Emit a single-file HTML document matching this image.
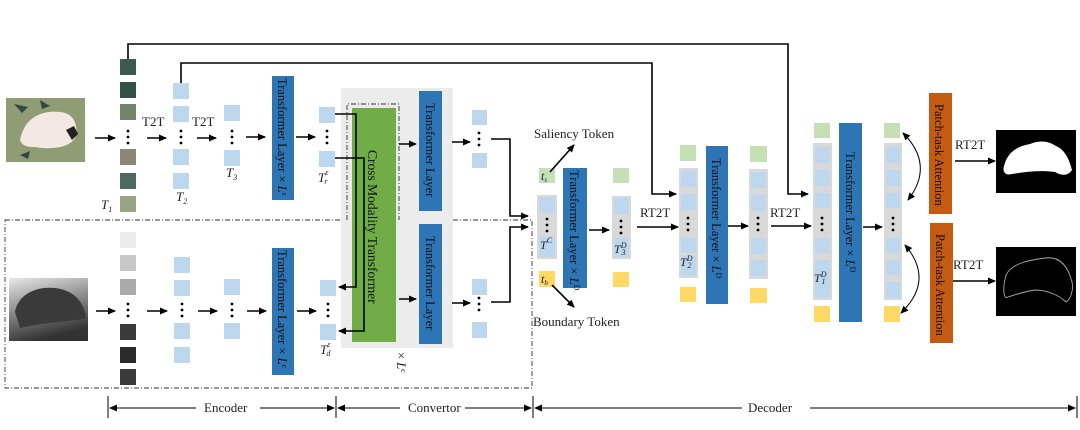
<!DOCTYPE html>
<html><head><meta charset="utf-8"><style>
html,body{margin:0;padding:0;background:#fff;}
svg{display:block;font-family:"Liberation Serif",serif;}
</style></head><body>
<svg width="1080" height="430" viewBox="0 0 1080 430" xmlns="http://www.w3.org/2000/svg">
<defs>
<marker id="a" markerWidth="8" markerHeight="8" refX="7" refY="4" orient="auto-start-reverse" markerUnits="userSpaceOnUse"><path d="M0,0.5 L8,4 L0,7.5 Z" fill="#000"/></marker>
<linearGradient id="dg" x1="0" y1="0" x2="0.3" y2="1"><stop offset="0" stop-color="#e8e8e8"/><stop offset="1" stop-color="#333"/></linearGradient>
</defs>
<g fill="none" stroke="#000" stroke-width="1.6">
<path d="M128,59 V44 H788 V194 H808" marker-end="url(#a)"/>
<path d="M181,83 V63 H652 V194 H676" marker-end="url(#a)"/>
</g>
<g fill="none" stroke="#333" stroke-width="0.9" stroke-dasharray="5,2,1,2">
<path d="M5,220 H347 V104 H399 V220 H532 V388 H5 Z"/>
</g>
<rect x="6" y="98" width="79" height="64" fill="#8f9c74"/>
<path d="M20,140 C25,115 45,110 60,112 C72,113 78,122 76,135 C73,148 50,150 35,147 C28,147 22,146 20,140Z" fill="#f3e9e2"/>
<path d="M66,130 l8,-4 l4,8 l-6,6z" fill="#222"/>
<path d="M14,104 l14,3 l-6,6z M40,100 l10,6 l-8,3z M20,155 l10,-4 l-2,8z" fill="#2f4a44"/>
<rect x="9" y="278" width="79" height="63" fill="url(#dg)"/>
<path d="M15,312 C18,295 35,286 55,288 C72,290 84,300 86,318 C70,322 45,322 20,328 Z" fill="#3a3a3a"/>
<g>
<rect x="120" y="59" width="16" height="16" fill="#3d5a50"/>
<rect x="120" y="82" width="16" height="16" fill="#34504a"/>
<rect x="120" y="104" width="16" height="16" fill="#6f8469"/>
<rect x="120" y="149" width="16" height="16" fill="#8a8777"/>
<rect x="120" y="173" width="16" height="16" fill="#4d6a60"/>
<rect x="120" y="196" width="16" height="16" fill="#98a67f"/>
<rect x="120" y="232" width="16" height="16" fill="#ececec"/>
<rect x="120" y="255" width="16" height="16" fill="#c8c8c8"/>
<rect x="120" y="279" width="16" height="16" fill="#aaaaaa"/>
<rect x="120" y="324" width="16" height="16" fill="#3a3a3a"/>
<rect x="120" y="347" width="16" height="16" fill="#2a2a2a"/>
<rect x="120" y="369" width="16" height="16" fill="#3a3a3a"/>
</g>
<g fill="#bdd7ee">
<rect x="173" y="83" width="16" height="16"/><rect x="173" y="106" width="16" height="16"/>
<rect x="173" y="149" width="16" height="16"/><rect x="173" y="173" width="16" height="16"/>
<rect x="224" y="105" width="16" height="16"/><rect x="224" y="150" width="16" height="16"/>
<rect x="319" y="107" width="16" height="16"/><rect x="319" y="151" width="16" height="16"/>
<rect x="174" y="257" width="16" height="16"/><rect x="174" y="280" width="16" height="16"/>
<rect x="174" y="323" width="16" height="16"/><rect x="174" y="347" width="16" height="16"/>
<rect x="224" y="279" width="16" height="16"/><rect x="224" y="323" width="16" height="16"/>
<rect x="320" y="280" width="16" height="16"/><rect x="320" y="324" width="16" height="16"/>
<rect x="472" y="110" width="15" height="15"/><rect x="472" y="153" width="15" height="15"/>
<rect x="472" y="279" width="15" height="16"/><rect x="472" y="322" width="15" height="16"/>
</g>
<g fill="#000">
<circle cx="128" cy="131" r="1.4"/><circle cx="128" cy="137" r="1.4"/><circle cx="128" cy="143" r="1.4"/>
<circle cx="181" cy="131" r="1.4"/><circle cx="181" cy="137" r="1.4"/><circle cx="181" cy="143" r="1.4"/>
<circle cx="232" cy="131" r="1.4"/><circle cx="232" cy="137" r="1.4"/><circle cx="232" cy="143" r="1.4"/>
<circle cx="327" cy="131" r="1.4"/><circle cx="327" cy="137" r="1.4"/><circle cx="327" cy="143" r="1.4"/>
<circle cx="128" cy="304" r="1.4"/><circle cx="128" cy="310" r="1.4"/><circle cx="128" cy="316" r="1.4"/>
<circle cx="182" cy="304" r="1.4"/><circle cx="182" cy="310" r="1.4"/><circle cx="182" cy="316" r="1.4"/>
<circle cx="232" cy="304" r="1.4"/><circle cx="232" cy="310" r="1.4"/><circle cx="232" cy="316" r="1.4"/>
<circle cx="328" cy="304" r="1.4"/><circle cx="328" cy="310" r="1.4"/><circle cx="328" cy="316" r="1.4"/>
<circle cx="479" cy="133" r="1.4"/><circle cx="479" cy="139" r="1.4"/><circle cx="479" cy="145" r="1.4"/>
<circle cx="479" cy="298" r="1.4"/><circle cx="479" cy="304" r="1.4"/><circle cx="479" cy="310" r="1.4"/>
</g>
<rect x="341" y="88" width="112" height="260" fill="#ececec"/>
<path d="M347,220 V104 H399 V220" fill="none" stroke="#333" stroke-width="0.9" stroke-dasharray="5,2,1,2"/>
<rect x="352" y="108" width="44" height="234" fill="#70ad47"/>
<g fill="#2e75b6">
<rect x="272" y="76" width="22" height="124"/>
<rect x="272" y="248" width="22" height="127"/>
<rect x="419" y="91" width="23" height="120"/>
<rect x="419" y="224" width="23" height="120"/>
<rect x="563" y="168" width="24" height="120"/>
<rect x="706" y="146" width="22" height="158"/>
<rect x="839" y="123" width="23" height="199"/>
</g>
<g fill="none" stroke="#000" stroke-width="1.6" marker-end="url(#a)">
<path d="M95,138 H115"/><path d="M147,138 H166"/><path d="M197,138 H216"/><path d="M246,137 H265"/><path d="M296,137 H315"/>
<path d="M96,311 H115"/><path d="M147,311 H167"/><path d="M198,311 H217"/><path d="M247,311 H266"/><path d="M297,311 H316"/>
<path d="M335,114 H356 V287 H339"/><path d="M335,158 H364 V331 H339"/>
<path d="M399,144 H416"/><path d="M399,299 H416"/>
<path d="M452,142 H470"/><path d="M452,303 H470"/>
<path d="M491,139 H510 V216 H528"/><path d="M491,302 H510 V227 H528"/>
</g>
<g>
<rect x="537" y="195" width="20" height="64" fill="#d9d9d9"/>
<rect x="539" y="197" width="16" height="16" fill="#bdd7ee"/><rect x="539" y="237" width="16" height="20" fill="#bdd7ee"/>
<rect x="539" y="168" width="16" height="15" fill="#c5e0b4"/><rect x="539" y="271" width="16" height="16" fill="#ffd966"/>
<rect x="613" y="168" width="16" height="15" fill="#c5e0b4"/>
<rect x="612" y="196" width="19" height="63" fill="#d9d9d9"/>
<rect x="614" y="198" width="15" height="16" fill="#bdd7ee"/><rect x="614" y="238" width="15" height="19" fill="#bdd7ee"/>
<rect x="613" y="272" width="16" height="15" fill="#ffd966"/>
<rect x="680" y="145" width="16" height="16" fill="#c5e0b4"/>
<rect x="679" y="168" width="19" height="110" fill="#d9d9d9"/>
<rect x="681" y="171" width="15" height="16" fill="#bdd7ee"/><rect x="681" y="194" width="15" height="16" fill="#bdd7ee"/>
<rect x="681" y="238" width="15" height="15" fill="#bdd7ee"/><rect x="681" y="256" width="15" height="20" fill="#bdd7ee"/>
<rect x="680" y="287" width="16" height="15" fill="#ffd966"/>
<rect x="750" y="146" width="17" height="16" fill="#c5e0b4"/>
<rect x="749" y="169" width="19" height="110" fill="#d9d9d9"/>
<rect x="751" y="172" width="15" height="16" fill="#bdd7ee"/><rect x="751" y="195" width="15" height="16" fill="#bdd7ee"/>
<rect x="751" y="238" width="15" height="16" fill="#bdd7ee"/><rect x="751" y="260" width="15" height="16" fill="#bdd7ee"/>
<rect x="750" y="288" width="17" height="15" fill="#ffd966"/>
<rect x="814" y="123" width="16" height="15" fill="#c5e0b4"/>
<rect x="813" y="143" width="19" height="157" fill="#d9d9d9"/>
<rect x="815" y="147" width="15" height="16" fill="#bdd7ee"/><rect x="815" y="170" width="15" height="16" fill="#bdd7ee"/><rect x="815" y="193" width="15" height="15" fill="#bdd7ee"/>
<rect x="815" y="238" width="15" height="15" fill="#bdd7ee"/><rect x="815" y="260" width="15" height="38" fill="#bdd7ee"/>
<rect x="814" y="306" width="16" height="16" fill="#ffd966"/>
<rect x="884" y="123" width="16" height="15" fill="#c5e0b4"/>
<rect x="884" y="143" width="18" height="157" fill="#d9d9d9"/>
<rect x="886" y="147" width="14" height="16" fill="#bdd7ee"/><rect x="886" y="170" width="14" height="16" fill="#bdd7ee"/><rect x="886" y="193" width="14" height="15" fill="#bdd7ee"/>
<rect x="886" y="238" width="14" height="15" fill="#bdd7ee"/><rect x="886" y="260" width="14" height="15" fill="#bdd7ee"/><rect x="886" y="282" width="14" height="16" fill="#bdd7ee"/>
<rect x="884" y="306" width="16" height="16" fill="#ffd966"/>
</g>
<g fill="#000">
<circle cx="547" cy="219" r="1.4"/><circle cx="547" cy="225" r="1.4"/><circle cx="547" cy="231" r="1.4"/>
<circle cx="621" cy="221" r="1.4"/><circle cx="621" cy="227" r="1.4"/><circle cx="621" cy="233" r="1.4"/>
<circle cx="688" cy="218" r="1.4"/><circle cx="688" cy="224" r="1.4"/><circle cx="688" cy="230" r="1.4"/>
<circle cx="758" cy="218" r="1.4"/><circle cx="758" cy="224" r="1.4"/><circle cx="758" cy="230" r="1.4"/>
<circle cx="822" cy="218" r="1.4"/><circle cx="822" cy="224" r="1.4"/><circle cx="822" cy="230" r="1.4"/>
<circle cx="893" cy="218" r="1.4"/><circle cx="893" cy="224" r="1.4"/><circle cx="893" cy="230" r="1.4"/>
</g>
<rect x="929" y="93" width="23" height="121" fill="#c55a11"/>
<rect x="930" y="223" width="23" height="120" fill="#c55a11"/>
<rect x="996" y="130" width="80" height="63" fill="#000"/>
<path d="M1004,166 C1008,150 1020,146 1030,144 C1040,140 1048,141 1056,146 C1066,150 1070,162 1072,170 C1068,176 1062,176 1055,172 C1040,170 1025,172 1012,174 C1006,176 1002,172 1004,166Z" fill="#fff"/>
<rect x="996" y="247" width="80" height="69" fill="#000"/>
<path d="M1006,275 C1012,263 1030,260 1045,258 C1060,256 1068,266 1072,282 C1074,290 1070,300 1066,302 C1060,296 1048,290 1035,290 C1022,292 1015,295 1008,297 C1004,300 1002,290 1006,275Z" fill="none" stroke="#aaa" stroke-width="0.9"/>
<g fill="none" stroke="#000" stroke-width="1.6" marker-end="url(#a)">
<path d="M550,172 L574,145"/><path d="M552,285 L574,307"/>
<path d="M589,230 H609"/><path d="M637,227 H678"/><path d="M728,226 H748"/><path d="M771,226 H811"/><path d="M863,227 H882"/>
<path d="M955,161 H995"/><path d="M953,281 H995"/>
</g>
<g fill="none" stroke="#000" stroke-width="1" marker-start="url(#a)" marker-end="url(#a)">
<path d="M903,133 Q935,165 908,200"/>
<path d="M905,245 Q935,280 901,313"/>
</g>
<g stroke="#000" stroke-width="1" fill="none">
<path d="M108,396 V418 M336,396 V418 M533,396 V418 M1077,396 V418"/>
<path d="M110,408 H196" marker-start="url(#a)"/>
<path d="M260,408 H334" marker-end="url(#a)"/>
<path d="M338,408 H400" marker-start="url(#a)"/>
<path d="M465,408 H531" marker-end="url(#a)"/>
<path d="M535,408 H742" marker-start="url(#a)"/>
<path d="M810,408 H1075" marker-end="url(#a)"/>
</g>
<g font-size="13" fill="#222">
<text x="142" y="126">T2T</text><text x="192" y="126">T2T</text>
<text x="640" y="217">RT2T</text><text x="770" y="217">RT2T</text>
<text x="955" y="149">RT2T</text><text x="953" y="269">RT2T</text>
<text x="534" y="138">Saliency  Token</text>
<text x="533" y="326">Boundary  Token</text>
<text x="204" y="412">Encoder</text>
<text x="408" y="412">Convertor</text>
<text x="748" y="412">Decoder</text>
</g>
<g font-style="italic" font-size="13" fill="#222">
<text x="101" y="209">T<tspan font-size="8" dy="3">1</tspan></text>
<text x="176" y="201">T<tspan font-size="8" dy="3">2</tspan></text>
<text x="226" y="177">T<tspan font-size="8" dy="3">3</tspan></text>
<text x="318" y="182">T<tspan font-size="8" dy="-7">ε</tspan><tspan font-size="8" dx="-4" dy="9">r</tspan></text>
<text x="320" y="354">T<tspan font-size="8" dy="-7">ε</tspan><tspan font-size="8" dx="-4" dy="9">d</tspan></text>
<text x="541" y="180" font-size="12">t<tspan font-size="7" dy="2">s</tspan></text>
<text x="541" y="283" font-size="12">t<tspan font-size="7" dy="2">b</tspan></text>
<text x="540" y="249" font-size="12">T<tspan font-size="8" dy="-6">C</tspan></text>
<text x="614" y="253" font-size="12">T<tspan font-size="8" dy="-5">D</tspan><tspan font-size="8" dx="-5" dy="7">3</tspan></text>
<text x="680" y="266" font-size="12">T<tspan font-size="8" dy="-5">D</tspan><tspan font-size="8" dx="-5" dy="7">2</tspan></text>
<text x="814" y="282" font-size="12">T<tspan font-size="8" dy="-5">D</tspan><tspan font-size="8" dx="-5" dy="7">1</tspan></text>
</g>
<g font-size="12.5" fill="#111">
<text transform="translate(278,78) rotate(90)">Transformer Layer × <tspan font-style="italic">L</tspan><tspan font-size="8" dy="-4">ε</tspan></text>
<text transform="translate(278,250) rotate(90)">Transformer Layer × <tspan font-style="italic">L</tspan><tspan font-size="8" dy="-4">ε</tspan></text>
<text transform="translate(426,103) rotate(90)">Transformer Layer</text>
<text transform="translate(426,236) rotate(90)">Transformer Layer</text>
<text transform="translate(570,170) rotate(90)">Transformer Layer × <tspan font-style="italic">L</tspan><tspan font-size="8" dy="-4">D</tspan></text>
<text transform="translate(712,158) rotate(90)">Transformer  Layer  × <tspan font-style="italic">L</tspan><tspan font-size="8" dy="-4">D</tspan></text>
<text transform="translate(846,152) rotate(90)">Transformer  Layer  × <tspan font-style="italic">L</tspan><tspan font-size="8" dy="-4">D</tspan></text>
<text transform="translate(368,150) rotate(90)" font-size="13.5">Cross Modality  Transformer</text>
<text transform="translate(935,104) rotate(90)">Patch-task Attention</text>
<text transform="translate(936,234) rotate(90)">Patch-task Attention</text>
<text transform="translate(397,352) rotate(90)">× <tspan font-style="italic">L</tspan><tspan font-size="8" dy="-4">c</tspan></text>
</g>
</svg>
</body></html>
